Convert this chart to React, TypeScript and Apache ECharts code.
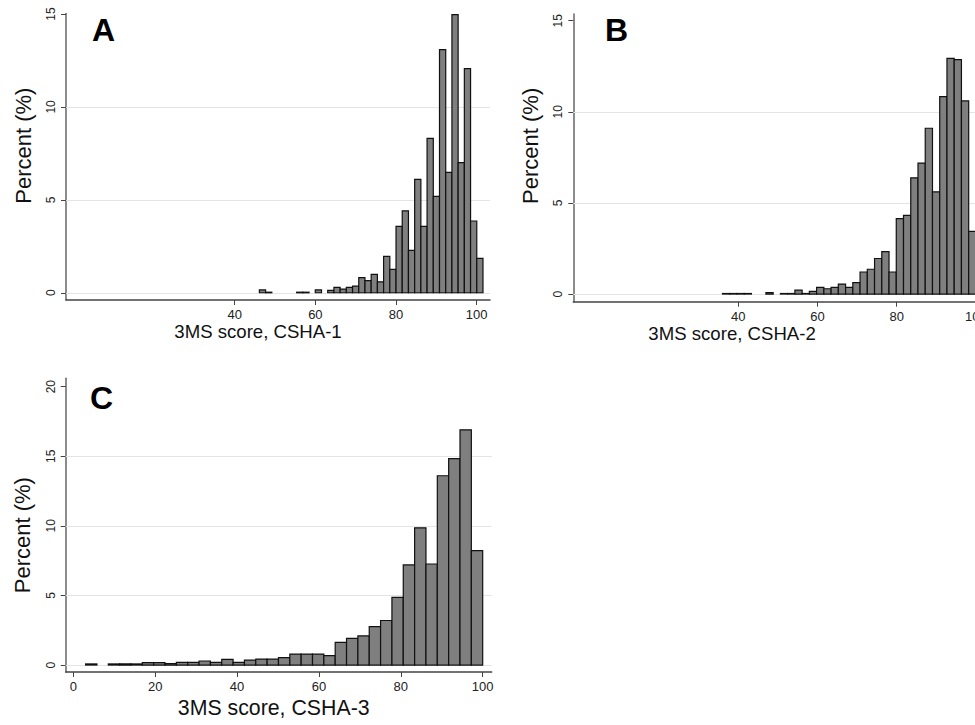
import React, { useEffect, useRef } from "react";
import * as echarts from "echarts";

// Histogram bins (3MS score) – start of first bin and bin width, per wave
const A_BIN_START = 46.12;
const A_BIN_WIDTH = 1.54;
const B_BIN_START = 36;
const B_BIN_WIDTH = 1.8286;
const C_BIN_START = 3;
const C_BIN_WIDTH = 2.7714;

// Percent per bin
const A_PERCENT = [
  0.15, 0.03, 0, 0, 0, 0, 0.03, 0.03, 0, 0.15, 0, 0.13, 0.29, 0.2, 0.29, 0.36,
  0.81, 0.65, 0.99, 0.59, 1.96, 1.26, 3.57, 4.41, 2.28, 6.1, 3.57, 8.31, 5.19,
  13.08, 6.48, 14.96, 7.0, 12.06, 3.86, 1.85,
];
const B_PERCENT = [
  0.03, 0.03, 0.03, 0.03, 0, 0, 0.08, 0, 0.03, 0.03, 0.22, 0.03, 0.15, 0.37,
  0.29, 0.37, 0.55, 0.37, 0.63, 1.21, 1.36, 1.95, 2.33, 1.21, 4.14, 4.32, 6.38,
  7.19, 9.1, 5.61, 10.83, 12.94, 12.87, 10.6, 3.44,
];
const C_PERCENT = [
  0.08, 0, 0.08, 0.08, 0.08, 0.17, 0.17, 0.1, 0.19, 0.19, 0.29, 0.19, 0.4, 0.19,
  0.36, 0.43, 0.43, 0.53, 0.79, 0.79, 0.79, 0.67, 1.63, 1.92, 2.09, 2.76, 3.2,
  4.86, 7.19, 9.86, 7.26, 13.6, 14.83, 16.9, 8.22,
];

// Tick labels
const A_X_TICKS = [40, 60, 80, 100];
const B_X_TICKS = [40, 60, 80, 100];
const C_X_TICKS = [0, 20, 40, 60, 80, 100];
const AB_Y_TICKS = [0, 5, 10, 15];
const C_Y_TICKS = [0, 5, 10, 15, 20];
const AB_GRIDLINES = [0, 5, 10];
const C_GRIDLINES = [0, 5, 10, 15];

const X_TITLES = ["3MS score, CSHA-1", "3MS score, CSHA-2", "3MS score, CSHA-3"];
const Y_TITLE = "Percent (%)";
const PANEL_LETTERS = ["A", "B", "C"];

const FONT = "'Liberation Sans', Arial, sans-serif";

function toBins(start: number, width: number, values: number[]) {
  return values.map((v, i) => [start + i * width, start + (i + 1) * width, v]);
}

const renderBar = (params: any, api: any) => {
  const x0 = api.value(0);
  const x1 = api.value(1);
  const y = api.value(2);
  if (!(y > 0)) return null;
  const p0 = api.coord([x0, y]);
  const p1 = api.coord([x1, 0]);
  return {
    type: "rect",
    shape: { x: p0[0], y: p0[1], width: p1[0] - p0[0], height: p1[1] - p0[1] },
    style: { fill: "#7f7f7f", stroke: "#111", lineWidth: 1.2 },
  };
};

export default function App() {
  const ref = useRef<HTMLDivElement>(null);
  useEffect(() => {
    if (!ref.current) return;
    const chart = echarts.init(ref.current, undefined, { renderer: "svg" });

    const mkX = (idx: number, min: number, max: number, ticks: number[], name: string, nameGap: number, namePad: number[], nameSize: number) => ({
      type: "value",
      gridIndex: idx,
      min,
      max,
      name,
      nameLocation: "middle",
      nameGap,
      nameTextStyle: { fontFamily: FONT, fontSize: nameSize, color: "#111", padding: namePad },
      axisLine: { show: true, onZero: false, lineStyle: { color: "#444", width: 1.5 } },
      axisTick: { show: true, length: 5, customValues: ticks, lineStyle: { color: "#444", width: 1 } },
      axisLabel: { customValues: ticks, fontFamily: FONT, fontSize: 13, color: "#222", margin: 8 },
      splitLine: { show: false },
    });
    const mkY = (idx: number, min: number, max: number, ticks: number[], namePad: number[]) => ({
      type: "value",
      gridIndex: idx,
      min,
      max,
      name: Y_TITLE,
      nameLocation: "middle",
      nameGap: 32,
      nameTextStyle: { fontFamily: FONT, fontSize: 22, color: "#111", padding: namePad },
      axisLine: { show: true, onZero: false, lineStyle: { color: "#666", width: 1.5 } },
      axisTick: { show: true, length: 5, customValues: ticks, lineStyle: { color: "#444", width: 1 } },
      axisLabel: { customValues: ticks, rotate: 90, fontFamily: FONT, fontSize: 12, color: "#222", margin: 9 },
      splitLine: { show: false },
    });
    const gridSeries = (idx: number, lines: number[]) => ({
      type: "line",
      xAxisIndex: idx,
      yAxisIndex: idx,
      data: [],
      silent: true,
      z: 1,
      markLine: {
        silent: true,
        z: 1,
        symbol: ["none", "none"],
        label: { show: false },
        lineStyle: { color: "#e4e4e4", type: "solid", width: 1 },
        data: lines.map((v) => ({ yAxis: v })),
      },
    });
    const histSeries = (idx: number, data: number[][]) => ({
      type: "custom",
      xAxisIndex: idx,
      yAxisIndex: idx,
      z: 3,
      renderItem: renderBar,
      encode: { x: [0, 1], y: 2 },
      data,
    });

    chart.setOption({
      animation: false,
      backgroundColor: "#ffffff",
      grid: [
        { left: 66, top: 13.4, width: 424, height: 286.6 },
        { left: 573.3, top: 14, width: 414.5, height: 287.7 },
        { left: 65.7, top: 378.3, width: 426, height: 293.7 },
      ],
      xAxis: [
        mkX(0, -1.83, 103.3, A_X_TICKS, X_TITLES[0], 18, [0, 40, 0, 0], 18.6),
        mkX(1, -1.67, 103, B_X_TICKS, X_TITLES[1], 18, [0, 97, 0, 0], 18.6),
        mkX(2, -1.86, 102.2, C_X_TICKS, X_TITLES[2], 25, [0, 10, 0, 0], 21.3),
      ],
      yAxis: [
        mkY(0, -0.39, 15.03, AB_Y_TICKS, [0, 0, 0, 22]),
        mkY(1, -0.42, 15.37, AB_Y_TICKS, [0, 0, 0, 24]),
        mkY(2, -0.5, 20.6, C_Y_TICKS, [0, 20, 0, 0]),
      ],
      series: [
        gridSeries(0, AB_GRIDLINES),
        gridSeries(1, AB_GRIDLINES),
        gridSeries(2, C_GRIDLINES),
        histSeries(0, toBins(A_BIN_START, A_BIN_WIDTH, A_PERCENT)),
        histSeries(1, toBins(B_BIN_START, B_BIN_WIDTH, B_PERCENT)),
        histSeries(2, toBins(C_BIN_START, C_BIN_WIDTH, C_PERCENT)),
      ],
      graphic: [
        { type: "text", left: 92, top: 14, style: { text: PANEL_LETTERS[0], font: `bold 32px ${FONT}`, fill: "#000" } },
        { type: "text", left: 605, top: 14, style: { text: PANEL_LETTERS[1], font: `bold 32px ${FONT}`, fill: "#000" } },
        { type: "text", left: 90, top: 382, style: { text: PANEL_LETTERS[2], font: `bold 32px ${FONT}`, fill: "#000" } },
      ],
    });
    return () => chart.dispose();
  }, []);

  return (
    <div style={{ position: "fixed", left: 0, top: 0, width: 975, height: 725, overflow: "hidden", background: "#fff" }}>
      <div ref={ref} style={{ width: 1000, height: 725 }} />
    </div>
  );
}
